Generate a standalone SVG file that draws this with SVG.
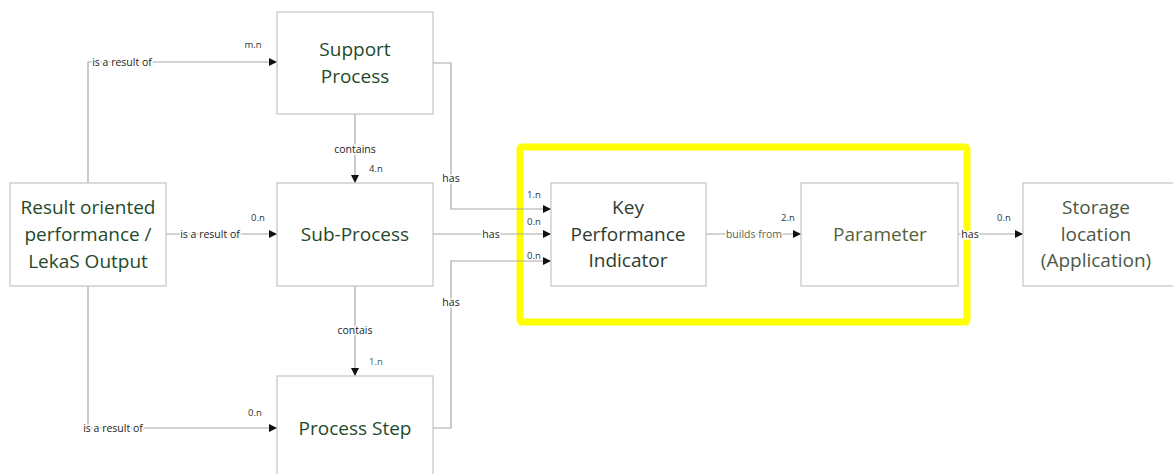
<svg xmlns="http://www.w3.org/2000/svg" width="1173" height="474" viewBox="0 0 1173 474">
  <defs>
    <marker id="arrow" viewBox="0 0 10 10" refX="10" refY="5" markerWidth="8" markerHeight="8" markerUnits="userSpaceOnUse" orient="auto">
      <path d="M0,0 L10,5 L0,10 z" fill="#111"/>
    </marker>
  </defs>
  <style>
    .box { fill: #ffffff; stroke: #c4c4c4; stroke-width: 1.2; }
    .title { font-family: "Open Sans", "Liberation Sans", sans-serif; font-size: 19px; text-anchor: middle; fill: #1f4a2c; }
    .kpi { fill: #2e3b30; }
    .param { fill: #55633c; }
    .store { fill: #4b5846; }
    .edge { fill: none; stroke: #a8a8a8; stroke-width: 1.2; }
    .arr { marker-end: url(#arrow); }
    .lbl { font-family: "Open Sans", "Liberation Sans", sans-serif; font-size: 10.5px; fill: #222; text-anchor: middle; paint-order: stroke; stroke: #ffffff; stroke-width: 3px; }
    .card { font-family: "Open Sans", "Liberation Sans", sans-serif; font-size: 9.5px; fill: #333; text-anchor: middle; }
    .hl { fill: none; stroke: #ffff00; stroke-width: 7; }
  </style>

  <rect width="1173" height="474" fill="#ffffff"/>

  <!-- highlight frame around the KPI section -->
  <rect class="hl" x="520" y="147" width="447" height="175" rx="2"/>

  <!-- connectors -->
  <g id="connectors">
    <path class="edge arr" d="M88,183 V62 H277"/>
    <path class="edge arr" d="M166,234 H277"/>
    <path class="edge arr" d="M88,286 V428 H277"/>
    <path class="edge arr" d="M355,114 V183"/>
    <path class="edge arr" d="M355,286 V376"/>
    <path class="edge arr" d="M433,63 H451 V209 H551"/>
    <path class="edge arr" d="M433,234 H551"/>
    <path class="edge arr" d="M433,428 H451 V261 H551"/>
    <path class="edge arr" d="M706,234 H801"/>
    <path class="edge arr" d="M958,234 H1023"/>

    <text class="lbl" x="122" y="66">is a result of</text>
    <text class="lbl" x="210" y="238">is a result of</text>
    <text class="lbl" x="113" y="432">is a result of</text>
    <text class="lbl" x="355" y="153">contains</text>
    <text class="lbl" x="355" y="334">contais</text>
    <text class="lbl" x="451" y="182">has</text>
    <text class="lbl" x="491" y="238">has</text>
    <text class="lbl" x="451" y="306">has</text>
    <text class="lbl" x="754" y="238" style="fill:#5b6448">builds from</text>
    <text class="lbl" x="970" y="238">has</text>

    <text class="card" x="253" y="48">m.n</text>
    <text class="card" x="258" y="221">0.n</text>
    <text class="card" x="255" y="416">0.n</text>
    <text class="card" x="376" y="172">4.n</text>
    <text class="card" x="376" y="365" style="fill:#3d6448">1.n</text>
    <text class="card" x="534" y="198">1.n</text>
    <text class="card" x="534" y="225">0.n</text>
    <text class="card" x="534" y="259">0.n</text>
    <text class="card" x="788" y="221">2.n</text>
    <text class="card" x="1004" y="221">0.n</text>
  </g>

  <!-- nodes -->
  <g id="node-support">
    <rect class="box" x="277" y="12" width="156" height="102"/>
    <text class="title" x="355" y="56">Support</text>
    <text class="title" x="355" y="83">Process</text>
  </g>
  <g id="node-result">
    <rect class="box" x="10" y="183" width="156" height="103"/>
    <text class="title" x="88" y="214">Result oriented</text>
    <text class="title" x="88" y="241">performance /</text>
    <text class="title" x="88" y="268">LekaS Output</text>
  </g>
  <g id="node-subprocess">
    <rect class="box" x="277" y="183" width="156" height="103"/>
    <text class="title" x="355" y="241">Sub-Process</text>
  </g>
  <g id="node-processstep">
    <rect class="box" x="277" y="376" width="156" height="110"/>
    <text class="title" x="355" y="435">Process Step</text>
  </g>
  <g id="node-kpi">
    <rect class="box" x="551" y="183" width="155" height="103"/>
    <text class="title kpi" x="628" y="214">Key</text>
    <text class="title kpi" x="628" y="241">Performance</text>
    <text class="title kpi" x="628" y="267">Indicator</text>
  </g>
  <g id="node-parameter">
    <rect class="box" x="801" y="183" width="157" height="103"/>
    <text class="title param" x="880" y="241">Parameter</text>
  </g>
  <g id="node-storage">
    <rect class="box" x="1023" y="183" width="160" height="103"/>
    <text class="title store" x="1096" y="214">Storage</text>
    <text class="title store" x="1096" y="241">location</text>
    <text class="title store" x="1096" y="267">(Application)</text>
  </g>
</svg>
